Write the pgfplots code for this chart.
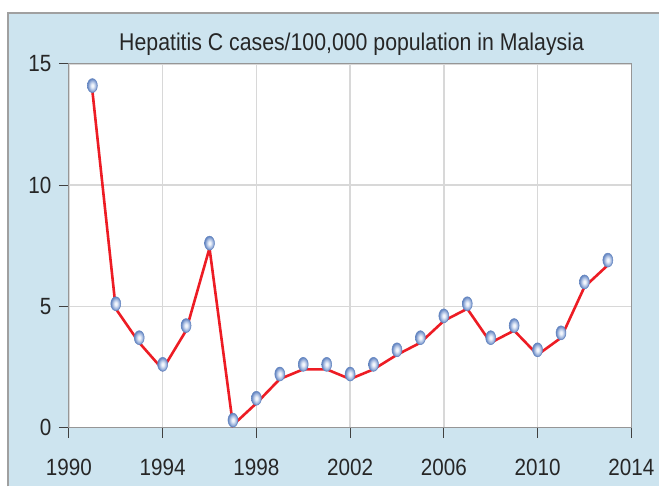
\documentclass[border=0pt]{standalone}
\usepackage{pgfplots}
\pgfplotsset{compat=1.18}
\usepackage{fontspec}
\setmainfont[FakeStretch=0.88]{Liberation Sans}
\definecolor{bgblue}{RGB}{205,228,239}
\definecolor{framegray}{RGB}{160,160,160}
\definecolor{gridgray}{RGB}{216,216,216}
\definecolor{boxgray}{RGB}{150,150,150}
\definecolor{linered}{RGB}{237,28,36}
\definecolor{mkA}{RGB}{242,246,252}
\definecolor{mkB}{RGB}{165,186,224}
\definecolor{mkC}{RGB}{98,132,192}
\pgfdeclareradialshading{mkshade}{\pgfpoint{0bp}{0bp}}{color(0bp)=(mkA); color(5bp)=(mkA); color(16bp)=(mkB); color(25bp)=(mkC); color(50bp)=(mkC)}
\pgfdeclareplotmark{egg}{%
  \pgfpathellipse{\pgfpointorigin}{\pgfqpoint{5pt}{0pt}}{\pgfqpoint{0pt}{7pt}}%
  \pgfshadepath{mkshade}{0}%
  \pgfsetlinewidth{0.5pt}\pgfsetstrokecolor{mkC}%
  \pgfusepath{stroke}%
}
\pgfplotstableread{
year val
1991 13.9
1992 4.9
1993 3.5
1994 2.4
1995 4.0
1996 7.4
1997 0.1
1998 1.0
1999 2.0
2000 2.4
2001 2.4
2002 2.0
2003 2.4
2004 3.0
2005 3.5
2006 4.4
2007 4.9
2008 3.5
2009 4.0
2010 3.0
2011 3.7
2012 5.8
2013 6.7
}\hep
\begin{document}
\begin{tikzpicture}
\fill[white] (0pt,0pt) rectangle (660pt,487pt);
\fill[bgblue] (8pt,0pt) rectangle (660pt,474pt);
\draw[framegray, line width=1.5pt] (8pt,0pt) -- (8pt,474pt) -- (660pt,474pt);
\node[font=\fontsize{24.2}{28}\selectfont, anchor=base, text=black!85] at (352pt,436pt) {Hepatitis C cases/100,000 population in Malaysia};
\begin{axis}[
  at={(69pt,59pt)}, anchor=south west,
  scale only axis, width=563pt, height=364pt,
  xmin=1990, xmax=2014, ymin=0, ymax=15,
  xtick={1990,1994,...,2014}, ytick={0,5,10,15},
  /pgf/number format/1000 sep={},
  /pgf/number format/assume math mode=true,
  tick label style={font=\fontsize{23.5}{26}\selectfont, text=black!85},
  xticklabel style={yshift=-18pt},
  yticklabel style={xshift=-4pt},
  grid=major,
  major grid style={color=gridgray, line width=1.4pt},
  axis line style={color=boxgray, line width=1pt},
  tick align=outside,
  major tick length=10pt,
  major tick style={color=black!75, line width=1pt},
  xtick pos=bottom, ytick pos=left,
  axis background/.style={fill=white},
  clip=false,
]
\addplot[color=linered, line width=2.6pt, mark=egg, mark options={yshift=5pt}] table[x=year,y=val] {\hep};
\end{axis}
\end{tikzpicture}
\end{document}
